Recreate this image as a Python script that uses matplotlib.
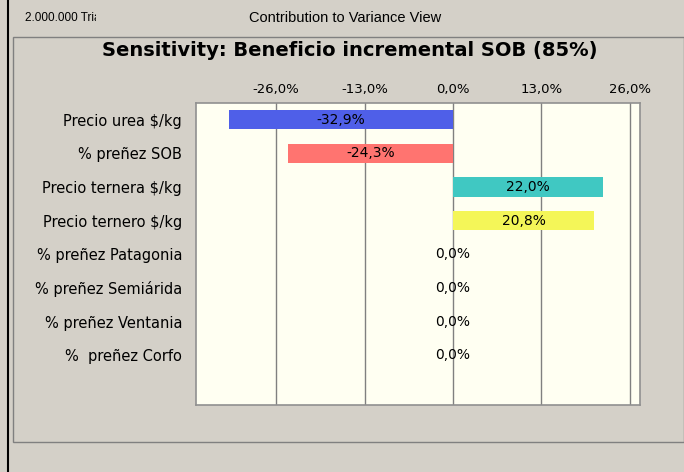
import matplotlib
matplotlib.use('Agg')
import matplotlib.pyplot as plt
from matplotlib.patches import Rectangle
from matplotlib.lines import Line2D

# data
variables = ['Precio urea $/kg', '% preñez SOB', 'Precio ternera $/kg', 'Precio ternero $/kg',
             '% preñez Patagonia', '% preñez Semiárida', '% preñez Ventania', '%  preñez Corfo']
contribution = [-32.9, -24.3, 22.0, 20.8, 0.0, 0.0, 0.0, 0.0]
bar_colors = ['#4f5fe8', '#ff7470', '#40c8c2', '#f4f658', '#ffffff', '#ffffff', '#ffffff', '#ffffff']
ticks = [-26, -13, 0, 13, 26]

plt.rcParams['font.family'] = ['DejaVu Sans']

fig = plt.figure(figsize=(6.84, 4.72), dpi=100)
fig.patch.set_facecolor('#d4d0c8')
W, H = 684.0, 472.0

# window frame lines
fig.add_artist(Line2D([8 / W, 8 / W], [0, 1], color='black', lw=1.5, transform=fig.transFigure))
fig.add_artist(Rectangle((13 / W, 1 - 442 / H), (684 - 13) / W, (442 - 37) / H, transform=fig.transFigure,
                         fill=False, edgecolor='#808080', lw=1.0))

t = fig.text(25 / W, 1 - 18 / H, '2.000.000 Tria', fontsize=8.5, va='center', ha='left',
             family=['Liberation Sans Narrow', 'Liberation Sans'])
clip = Rectangle((0, 0), 96 / W, 1, transform=fig.transFigure)
t.set_clip_path(clip)
fig.text(345 / W, 1 - 18 / H, 'Contribution to Variance View', fontsize=10.5, va='center', ha='center',
         family='Liberation Sans')
fig.text(350 / W, 1 - 51 / H, 'Sensitivity: Beneficio incremental SOB (85%)', fontsize=14,
         fontweight='bold', va='center', ha='center')

ax = fig.add_axes([196 / W, 1 - 405 / H, (640 - 196) / W, (405 - 103) / H])
ax.set_facecolor('#fffff2')

y = list(range(len(variables)))
ax.barh(y, contribution, height=0.57, color=bar_colors, edgecolor='none', zorder=3)
for yi, v in zip(y, contribution):
    label = f'{v:.1f}%'.replace('.', ',')
    ax.text(v / 2, yi, label, ha='center', va='center', fontsize=10, zorder=4)

ax.set_xlim(-37.8, 27.5)
ax.set_ylim(8.48, -0.5)
ax.set_xticks(ticks)
ax.set_xticklabels([f'{t:.1f}%'.replace('.', ',') for t in ticks], fontsize=9.5)
ax.xaxis.tick_top()
ax.tick_params(axis='x', length=0, pad=5)
ax.set_yticks(y)
ax.set_yticklabels(variables, fontsize=10.5)
ax.tick_params(axis='y', length=0, pad=10)
ax.grid(axis='x', color='#808080', lw=1.0, zorder=1)
for s in ax.spines.values():
    s.set_color('#909090')
    s.set_linewidth(1.2)

fig.savefig('out.png', dpi=100, facecolor=fig.get_facecolor())
